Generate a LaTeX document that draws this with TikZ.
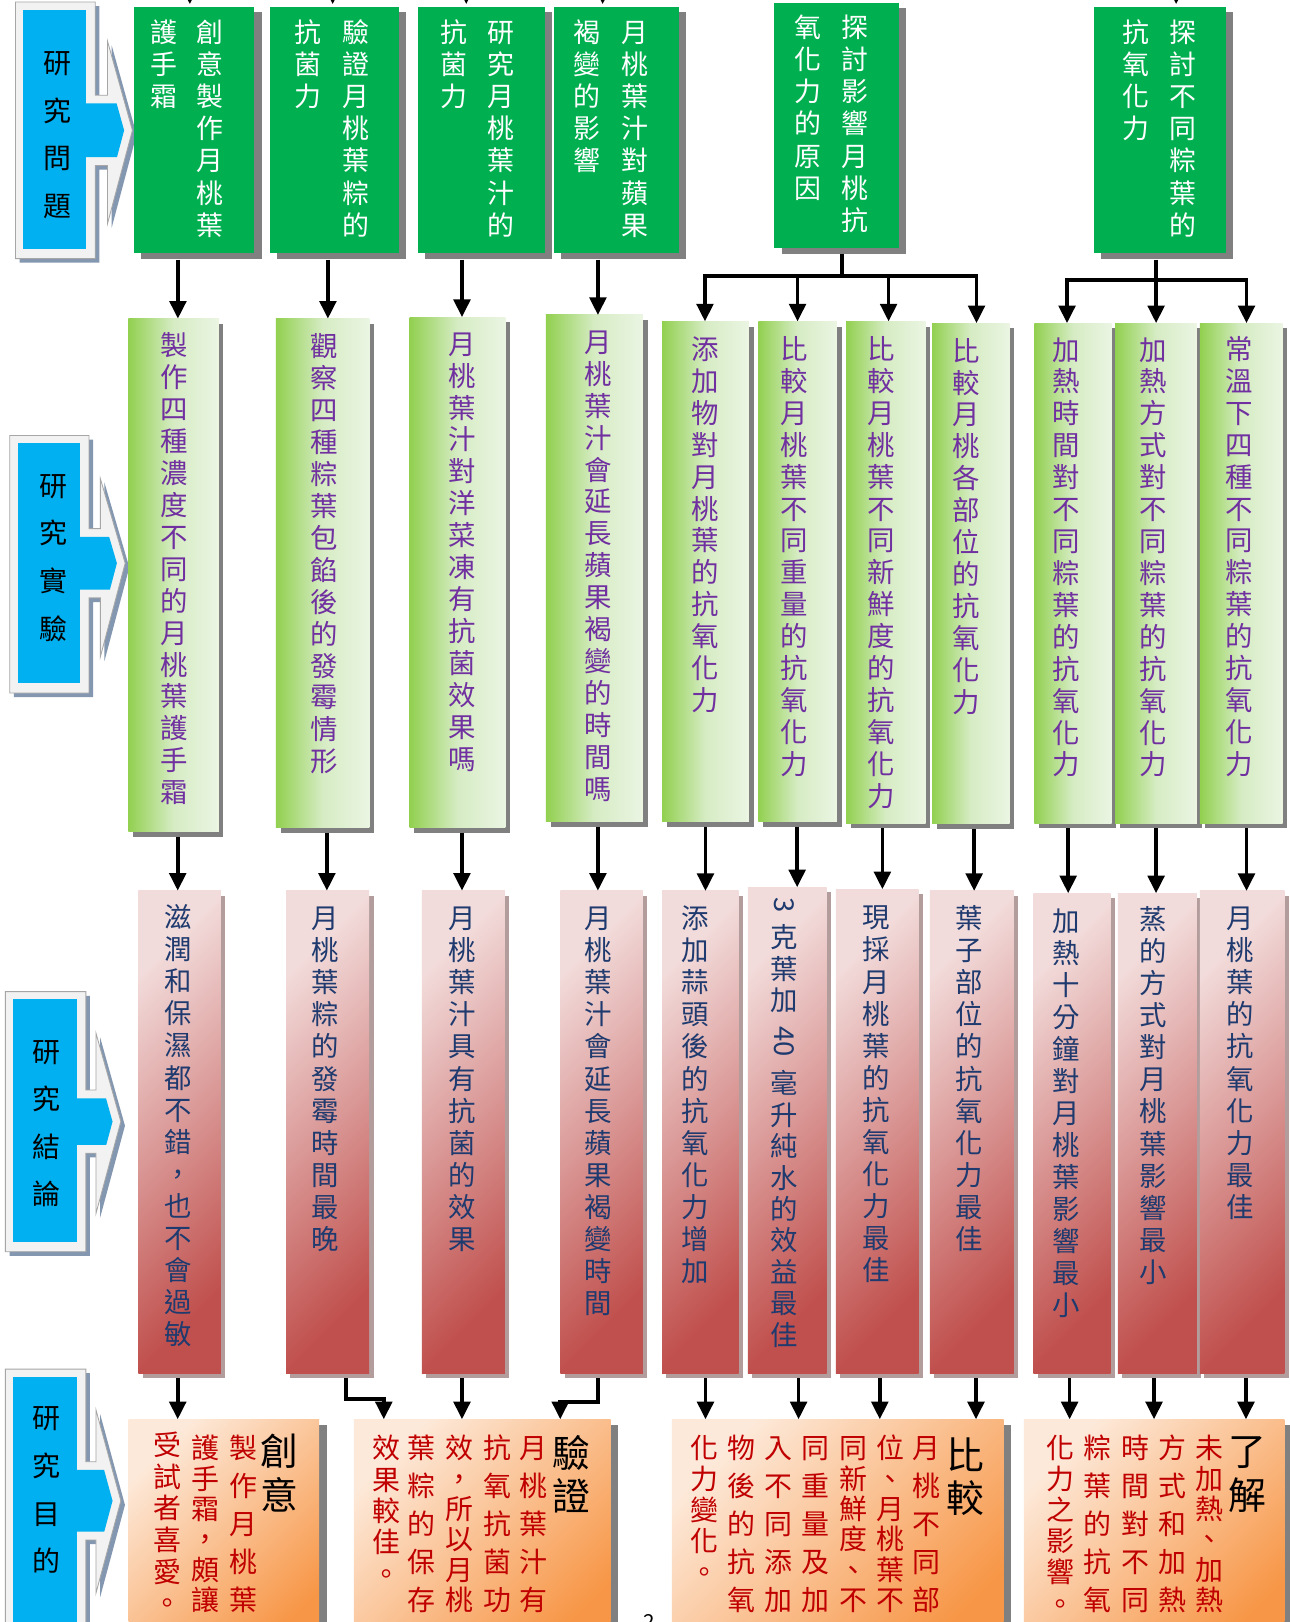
\documentclass[tikz,border=0pt]{standalone}
\usepackage{fontspec}
\setmainfont{Noto Sans CJK TC}
\usepackage{graphicx}
\usetikzlibrary{arrows.meta,shadows}
\definecolor{lblue}{HTML}{00B0F0}
\definecolor{lframe}{HTML}{F2F2F2}
\definecolor{lframeline}{HTML}{A6A6A6}
\definecolor{lshadow}{HTML}{8497B0}
\definecolor{agreen}{HTML}{00B050}
\definecolor{shgray}{HTML}{808080}
\definecolor{bgL}{HTML}{92D050}
\definecolor{bgM}{HTML}{D6ECC4}
\definecolor{bgR}{HTML}{EBF5E3}
\definecolor{cTL}{HTML}{F2DCDB}
\definecolor{cBR}{HTML}{C0504D}
\definecolor{cshadow}{HTML}{B39C9C}
\definecolor{dTL}{HTML}{FDE9D9}
\definecolor{dBR}{HTML}{F79646}
\definecolor{purp}{HTML}{7030A0}
\definecolor{navyc}{HTML}{1F3A6E}
\definecolor{dred}{HTML}{C00000}

\newlength\vp
\def\vcend{VCENDMARK}
\newcommand\ch[1]{\vbox to\vp{\vss\hbox to 0pt{\hss\vrule height .88em depth .12em width 0pt\relax#1\hss}\vss}}
\newcommand\chh[2]{\vbox to #1{\vss\hbox to 0pt{\hss#2\hss}\vss}}
\def\vcaux#1{\ifx\vcend#1\else\ch{#1}\expandafter\vcaux\fi}
\newcommand\vc[2]{\vtop{\offinterlineskip\setlength\vp{#1}\vcaux#2\vcend}}

\newcommand\bx[6]{\node[#1,anchor=north west,inner sep=0pt,outer sep=0pt,minimum width={#5-#3},minimum height={#6-#4}] (#2) at (#3,#4) {};}

\newcommand\lbl[9]{%
  \pgfmathsetmacro\ltx{#7+24}%
  \pgfmathsetmacro\lty{(#5+#6)/2}%
  \pgfmathsetmacro\lxa{#7+24*((#5+8)-#8)/(\lty-#8)-8}%
  \pgfmathsetmacro\lxb{#7+24*(#9-(#6-8))/(#9-\lty)-8}%
  \fill[lshadow,xshift=4pt,yshift=-4pt] (#1,#3) -- (#2,#3) -- (#2,#5) -- (#7,#5) -- (#7,#8) -- (\ltx,\lty) -- (#7,#9) -- (#7,#6) -- (#2,#6) -- (#2,#4) -- (#1,#4) -- cycle;
  \filldraw[fill=lframe,draw=lframeline,line width=.8pt] (#1,#3) -- (#2,#3) -- (#2,#5) -- (#7,#5) -- (#7,#8) -- (\ltx,\lty) -- (#7,#9) -- (#7,#6) -- (#2,#6) -- (#2,#4) -- (#1,#4) -- cycle;
  \fill[lblue] (#1+7.5,#3+7.3) rectangle (#2-8.7,#4-9.5);
  \fill[lblue] (#2-9,#5+8) -- (\lxa,#5+8) -- (\ltx-8,\lty) -- (\lxb,#6-8) -- (#2-9,#6-8) -- cycle;
}

\tikzset{
 txt/.style={anchor=north,inner sep=0pt,outer sep=0pt},
 tA/.style={txt,text=white,font=\fontsize{26pt}{30pt}\selectfont},
 tB/.style={txt,text=purp,font=\fontsize{26.5pt}{30pt}\selectfont},
 tC/.style={txt,text=navyc,font=\fontsize{26.5pt}{30pt}\selectfont},
 tD/.style={txt,text=dred,font=\fontsize{27pt}{30pt}\selectfont},
 tH/.style={txt,text=black,font=\fontsize{36.5pt}{40pt}\selectfont},
 tL/.style={txt,text=black,font=\fontsize{27pt}{30pt}\selectfont},
 boxA/.style={fill=agreen,drop shadow={shadow xshift=7pt,shadow yshift=-5.5pt,fill=shgray,opacity=1}},
 boxB/.style={left color=bgL,right color=bgR,middle color=bgM,drop shadow={shadow xshift=4.5pt,shadow yshift=-5pt,fill=shgray,opacity=1}},
 boxC/.style={top color=cTL,bottom color=cBR,shading angle=45,drop shadow={shadow xshift=4.3pt,shadow yshift=-4.8pt,fill=cshadow,opacity=1}},
 boxD/.style={top color=dTL,bottom color=dBR,shading angle=45,drop shadow={shadow xshift=7.3pt,shadow yshift=-5.5pt,fill=shgray,opacity=1}},
 ln/.style={line width=3.6pt,black},
 arr/.style={ln,-{Triangle[width=16pt,length=17pt]}},
}

\begin{document}
\begin{tikzpicture}[x=1pt,y=-1pt]
\useasboundingbox (0,0) rectangle (1247,1568);
\fill[white] (0,0) rectangle (1247,1568);

% ---- side labels ----
\lbl{15}{92}{2}{250}{92}{160}{104}{40}{216}
\lbl{9.5}{86}{421}{670}{511}{578}{97}{462.6}{635}
\lbl{5.2}{83}{958.6}{1210}{1053.7}{1114.8}{92.8}{998.8}{1173}
\lbl{5.2}{83}{1323.5}{1600}{1413}{1488.7}{92.8}{1363}{1540}
\node[tL] (L1t) at (56,38) {\vc{46pt}{研究問題}};
\node[tL] (L2t) at (51.8,446.5) {\vc{46pt}{研究實驗}};
\node[tL] (L3t) at (44.5,993.6) {\vc{46pt}{研究結論}};
\node[tL] (L4t) at (44.5,1348) {\vc{46pt}{研究目的}};

% ---- row 1 ----
\bx{boxA}{A1}{129.5}{6.4}{246}{245}
\bx{boxA}{A2}{261}{6.4}{385.5}{245}
\bx{boxA}{A3}{404}{6.4}{527}{245}
\bx{boxA}{A4}{535.5}{6.4}{656}{245}
\bx{boxA}{A5}{748.7}{2.6}{869}{240}
\bx{boxA}{A6}{1057.6}{6.4}{1185}{245}
\node[tA] (A1r) at (202.8,15.9) {\vc{31pt}{創意製作月桃葉}};
\node[tA] (A1l) at (158.6,15.9) {\vc{31pt}{護手霜}};
\node[tA] (A2r) at (344.2,15.9) {\vc{31pt}{驗證月桃葉粽的}};
\node[tA] (A2l) at (297.8,15.9) {\vc{31pt}{抗菌力}};
\node[tA] (A3r) at (484.3,15.9) {\vc{31pt}{研究月桃葉汁的}};
\node[tA] (A3l) at (438.7,15.9) {\vc{31pt}{抗菌力}};
\node[tA] (A4r) at (613.9,15.9) {\vc{31pt}{月桃葉汁對蘋果}};
\node[tA] (A4l) at (567.5,15.9) {\vc{31pt}{褐變的影響}};
\node[tA] (A5r) at (826.6,11.1) {\vc{31pt}{探討影響月桃抗}};
\node[tA] (A5l) at (781.2,11.1) {\vc{31pt}{氧化力的原因}};
\node[tA] (A6r) at (1143.2,15.9) {\vc{31pt}{探討不同粽葉的}};
\node[tA] (A6l) at (1097.8,15.9) {\vc{31pt}{抗氧化力}};

% ---- row 2 ----
\bx{boxB}{B1}{124}{308}{211.5}{804}
\bx{boxB}{B2}{266.8}{308}{357}{800.4}
\bx{boxB}{B3}{396}{306.5}{488.5}{800}
\bx{boxB}{B4}{527.8}{304.5}{621.5}{794.6}
\bx{boxB}{B5}{640}{310.7}{724}{794}
\bx{boxB}{B6}{733}{310.7}{809}{794}
\bx{boxB}{B7}{818}{310.7}{894.7}{795.7}
\bx{boxB}{B8}{901}{312.4}{976}{796.5}
\bx{boxB}{B9}{1000}{312.4}{1074.5}{795.7}
\bx{boxB}{B10}{1078}{312.4}{1157}{795.7}
\bx{boxB}{B11}{1160}{312.4}{1240}{795.7}
\node[tB] (B1t) at (168.3,318.6) {\vc{30.85pt}{製作四種濃度不同的月桃葉護手霜}};
\node[tB] (B2t) at (313.7,319.5) {\vc{30.85pt}{觀察四種粽葉包餡後的發霉情形}};
\node[tB] (B3t) at (446.6,316.9) {\vc{30.85pt}{月桃葉汁對洋菜凍有抗菌效果嗎}};
\node[tB] (B4t) at (578.3,315.2) {\vc{30.85pt}{月桃葉汁會延長蘋果褐變的時間嗎}};
\node[tB] (B5t) at (682,322) {\vc{30.85pt}{添加物對月桃葉的抗氧化力}};
\node[tB] (B6t) at (768,322) {\vc{30.85pt}{比較月桃葉不同重量的抗氧化力}};
\node[tB] (B7t) at (852.1,322) {\vc{30.85pt}{比較月桃葉不同新鮮度的抗氧化力}};
\node[tB] (B8t) at (934,323.6) {\vc{30.85pt}{比較月桃各部位的抗氧化力}};
\node[tB] (B9t) at (1031,322.6) {\vc{30.85pt}{加熱時間對不同粽葉的抗氧化力}};
\node[tB] (B10t) at (1114.9,322.6) {\vc{30.85pt}{加熱方式對不同粽葉的抗氧化力}};
\node[tB] (B11t) at (1198.4,322) {\vc{30.85pt}{常溫下四種不同粽葉的抗氧化力}};

% ---- row 3 ----
\bx{boxC}{C1}{133.8}{861}{213.6}{1327.4}
\bx{boxC}{C2}{276.5}{861}{356.9}{1327.4}
\bx{boxC}{C3}{407.8}{861}{488}{1327.4}
\bx{boxC}{C4}{541.6}{861}{621.5}{1327.4}
\bx{boxC}{C5}{640}{861.3}{714}{1327.4}
\bx{boxC}{C6}{723}{857.7}{799}{1327.4}
\bx{boxC}{C7}{808}{859.6}{888}{1327.4}
\bx{boxC}{C8}{898.8}{861.3}{980}{1327.4}
\bx{boxC}{C9}{999}{863.5}{1073.6}{1327.4}
\bx{boxC}{C10}{1080.6}{863.5}{1157}{1327.4}
\bx{boxC}{C11}{1160}{861.3}{1241.6}{1327.4}
\node[tC] (C1t) at (171.8,871.2) {\vc{31pt}{滋潤和保濕都不錯，也不會過敏}};
\node[tC] (C2t) at (314.2,872.2) {\vc{31pt}{月桃葉粽的發霉時間最晚}};
\node[tC] (C3t) at (446.6,872.2) {\vc{31pt}{月桃葉汁具有抗菌的效果}};
\node[tC] (C4t) at (578.3,872.2) {\vc{31pt}{月桃葉汁會延長蘋果褐變時間}};
\node[tC] (C5t) at (671.6,872.2) {\vc{31pt}{添加蒜頭後的抗氧化力增加}};
\node[tC] (C6t) at (758.3,858.8) {\vtop{\offinterlineskip\setlength\vp{30.4pt}\chh{32pt}{\rotatebox{-90}{3}}\vcaux 克葉加\vcend\chh{50pt}{\rotatebox{-90}{40}}\vcaux 毫升純水的效益最佳\vcend}};
\node[tC] (C7t) at (847.2,871.4) {\vc{31pt}{現採月桃葉的抗氧化力最佳}};
\node[tC] (C8t) at (937.3,872.2) {\vc{31pt}{葉子部位的抗氧化力最佳}};
\node[tC] (C9t) at (1031,874.6) {\vc{31pt}{加熱十分鐘對月桃葉影響最小}};
\node[tC] (C10t) at (1114.9,873) {\vc{31pt}{蒸的方式對月桃葉影響最小}};
\node[tC] (C11t) at (1199.2,872.2) {\vc{31pt}{月桃葉的抗氧化力最佳}};

% ---- row 4 ----
\bx{boxD}{D1}{124.3}{1372}{308.5}{1600}
\bx{boxD}{D2}{342.2}{1372}{590.3}{1600}
\bx{boxD}{D3}{649.6}{1372}{970.3}{1600}
\bx{boxD}{D4}{989.7}{1372}{1241.7}{1600}
% D1
\node[tH] (D1h) at (270,1382.3) {\vc{42pt}{創意}};
\node[tD] (D1a) at (235,1381.65) {\vc{36.7pt}{製作月桃葉}};
\node[tD] (D1b) at (198.5,1385.35) {\vc{29.3pt}{護手霜，頗讓}};
\node[tD] (D1c) at (161.8,1381.5) {\vc{30.6pt}{受試者喜愛。}};
% D2
\node[tH] (D2h) at (552.4,1383.8) {\vc{42pt}{驗證}};
\node[tD] (D2a) at (515.7,1381.65) {\vc{36.7pt}{月桃葉汁有}};
\node[tD] (D2b) at (481,1381.65) {\vc{36.7pt}{抗氧抗菌功}};
\node[tD] (D2c) at (444.5,1385.35) {\vc{29.3pt}{效，所以月桃}};
\node[tD] (D2d) at (407.8,1381.65) {\vc{36.7pt}{葉粽的保存}};
\node[tD] (D2e) at (373.3,1384.85) {\vc{30.3pt}{效果較佳。}};
% D3
\node[tH] (D3h) at (933,1385.5) {\vc{42pt}{比較}};
\node[tD] (D3a) at (895.9,1381.65) {\vc{36.7pt}{月桃不同部}};
\node[tD] (D3b) at (860.4,1385.35) {\vc{29.3pt}{位、月桃葉不}};
\node[tD] (D3c) at (825.3,1385.35) {\vc{29.3pt}{同新鮮度、不}};
\node[tD] (D3d) at (788.1,1381.65) {\vc{36.7pt}{同重量及加}};
\node[tD] (D3e) at (752.1,1381.65) {\vc{36.7pt}{入不同添加}};
\node[tD] (D3f) at (716.3,1381.65) {\vc{36.7pt}{物後的抗氧}};
\node[tD] (D3g) at (680.7,1385) {\vc{30pt}{化力變化。}};
% D4
\node[tH] (D4h) at (1205.8,1382) {\vc{42pt}{了解}};
\node[tD] (D4a) at (1169.4,1385.35) {\vc{29.3pt}{未加熱、加熱}};
\node[tD] (D4b) at (1133,1381.65) {\vc{36.7pt}{方式和加熱}};
\node[tD] (D4c) at (1097.2,1381.65) {\vc{36.7pt}{時間對不同}};
\node[tD] (D4d) at (1061.2,1381.65) {\vc{36.7pt}{粽葉的抗氧}};
\node[tD] (D4e) at (1024.7,1385) {\vc{30pt}{化力之影響。}};

% page number (cut off)
\node[txt,font=\fontsize{20pt}{20pt}\selectfont] (pg) at (628,1561) {2};

% ---- connectors ----
\foreach \i/\x in {1/183.5,2/321.6,3/450.7,4/582.6,5/1137}{
  \coordinate (ts\i) at (\x,-40); \coordinate (te\i) at (\x,4);
  \draw[arr] (ts\i) -- (te\i);}

\foreach \i/\x in {1/172,2/317,3/446.6,4/578}{
  \coordinate (p\i) at (\x,0);
  \draw[arr,shorten <=6pt] (p\i |- A\i.south) -- (p\i |- B\i.north);}

\coordinate (j5) at (814,267);
\coordinate (j5a) at (681.5,267);
\coordinate (j5b) at (771,267);
\coordinate (j5c) at (859,267);
\coordinate (j5d) at (944,267);
\draw[ln,shorten <=6pt] (j5 |- A5.south) -- (j5);
\draw[ln,line cap=rect] (j5a) -- (j5d);
\draw[arr] (j5a) -- (j5a |- B5.north);
\draw[arr] (j5b) -- (j5b |- B6.north);
\draw[arr] (j5c) -- (j5c |- B7.north);
\draw[arr] (j5d) -- (j5d |- B8.north);

\coordinate (j6) at (1117.6,270.7);
\coordinate (j6a) at (1031.5,270.7);
\coordinate (j6c) at (1205,270.7);
\draw[ln,shorten <=6pt] (j6 |- A6.south) -- (j6);
\draw[ln,line cap=rect] (j6a) -- (j6c);
\draw[arr] (j6a) -- (j6a |- B9.north);
\draw[arr] (j6) -- (j6 |- B10.north);
\draw[arr] (j6c) -- (j6c |- B11.north);

\foreach \i/\x in {1/171.8,2/316,3/446.6,4/578,5/682,6/770.6,7/853,8/941.7,9/1032.6,10/1117.6,11/1205}{
  \coordinate (q\i) at (\x,0);
  \draw[arr,shorten <=5pt] (q\i |- B\i.south) -- (q\i |- C\i.north);}

\foreach \i/\x/\d in {1/171.8/1,3/446.6/2,5/682/3,6/772/3,7/850.5/3,8/943.5/3,9/1034/4,10/1115.6/4,11/1204.5/4}{
  \coordinate (r\i) at (\x,0);
  \draw[arr,shorten <=5pt] (r\i |- C\i.south) -- (r\i |- D\d.north);}

\coordinate (k2) at (334.5,1352.4);
\coordinate (k2b) at (371,1352.4);
\draw[arr,shorten <=5pt] (k2 |- C2.south) -- (k2) -- (k2b) -- (k2b |- D2.north);
\coordinate (k4) at (578,1355);
\coordinate (k4b) at (541.6,1355);
\draw[arr,shorten <=5pt] (k4 |- C4.south) -- (k4) -- (k4b) -- (k4b |- D2.north);
\end{tikzpicture}
\end{document}
